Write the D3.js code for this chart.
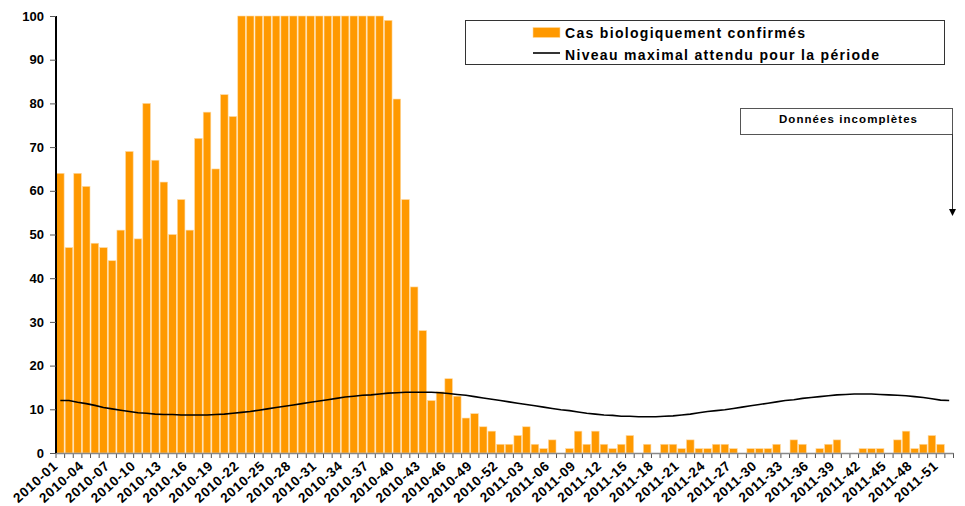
<!DOCTYPE html>
<html>
<head>
<meta charset="utf-8">
<script src="https://cdn.jsdelivr.net/npm/d3@7"></script>
<style>
  body { margin: 0; background: white; }
  svg { display: block; font-family: "Liberation Sans", Arial, sans-serif; }
</style>
</head>
<body>
<svg id="chart" width="965" height="506"></svg>
<script>
var years = [2010, 2011];
var weeksPerYear = 52;

// cas biologiquement confirmés (capped at 100 on the chart)
var cases = [
	64, 47, 64, 61, 48, 47, 44, 51, 69, 49, 80, 67, 62, 50, 58, 51, 72, 78, 65, 82,
	77, 100, 100, 100, 100, 100, 100, 100, 100, 100, 100, 100, 100, 100, 100, 100, 100, 100, 99, 81,
	58, 38, 28, 12, 14, 17, 13, 8, 9, 6, 5, 2,
	2, 4, 6, 2, 1, 3, 0, 1, 5, 2, 5, 2, 1, 2, 4, 0, 2, 0,
	2, 2, 1, 3, 1, 1, 2, 2, 1, 0, 1, 1, 1, 2, 0, 3, 2, 0, 1, 2,
	3, 0, 0, 1, 1, 1, 0, 3, 5, 1, 2, 4, 2, 0
];

// niveau maximal attendu pour la période
var expected = [
	12.0, 12.0, 11.6, 11.3, 10.9, 10.4, 10.1, 9.8, 9.5, 9.2, 9.1, 8.9, 8.8, 8.8, 8.7, 8.7, 8.7, 8.7, 8.8, 8.9,
	9.1, 9.3, 9.5, 9.8, 10.1, 10.4, 10.7, 11.0, 11.3, 11.6, 11.9, 12.2, 12.5, 12.8, 13.0, 13.2, 13.3, 13.5, 13.7, 13.8,
	13.9, 13.9, 13.9, 13.9, 13.8, 13.6, 13.4, 13.2, 12.9, 12.6, 12.3, 12.0,
	11.7, 11.4, 11.1, 10.8, 10.5, 10.2, 9.9, 9.7, 9.4, 9.1, 8.9, 8.7, 8.6, 8.4, 8.4, 8.3, 8.3, 8.3,
	8.4, 8.5, 8.7, 8.9, 9.2, 9.5, 9.7, 9.9, 10.2, 10.5, 10.8, 11.1, 11.4, 11.7, 12.0, 12.2, 12.5, 12.7, 12.9, 13.1,
	13.3, 13.4, 13.5, 13.5, 13.5, 13.4, 13.3, 13.2, 13.1, 12.9, 12.7, 12.4, 12.1, 12.0
];

var yTicks = [0, 10, 20, 30, 40, 50, 60, 70, 80, 90, 100];
var legendLabels = ["Cas biologiquement confirmés", "Niveau maximal attendu pour la période"];
var noteLabel = "Données incomplètes";

var weeks = [];
years.forEach(function (yr) {
	for (var w = 1; w <= weeksPerYear; w++) {
		weeks.push(yr + "-" + (w < 10 ? "0" + w : w));
	}
});

var svg = d3.select("#chart");
var plotL = 56, plotR = 953.5, plotT = 16, plotB = 453;

var x = d3.scaleBand()
	.domain(weeks)
	.range([plotL, plotR])
	.paddingInner(0.12)
	.paddingOuter(0.06);

var y = d3.scaleLinear()
	.domain([0, 100])
	.range([plotB, plotT])
	.clamp(true);

// bars
svg.append("g")
	.selectAll("rect")
	.data(cases)
	.enter().append("rect")
	.attr("x", function (d, i) { return x(weeks[i]); })
	.attr("y", function (d) { return y(d); })
	.attr("width", x.bandwidth())
	.attr("height", function (d) { return plotB - y(d); })
	.style("fill", "#ff9900")
	.style("stroke", "#ffd9a0")
	.style("stroke-width", 0.6);

// x axis: boundary ticks on every week, label every 3 weeks
var edge = x.step() * 0.06;
svg.append("g")
	.selectAll("line")
	.data(weeks.concat(["end"]))
	.enter().append("line")
	.attr("x1", function (d, i) { return i < weeks.length ? x(d) - edge : plotR; })
	.attr("x2", function (d, i) { return i < weeks.length ? x(d) - edge : plotR; })
	.attr("y1", plotB)
	.attr("y2", plotB + 5)
	.style("stroke", "#555")
	.style("stroke-width", 1);

svg.append("line")
	.attr("x1", plotL).attr("x2", plotR)
	.attr("y1", plotB + 0.5).attr("y2", plotB + 0.5)
	.style("stroke", "#888")
	.style("stroke-width", 1.5);

svg.append("g")
	.selectAll("text")
	.data(weeks.filter(function (d, i) { return i % 3 === 0; }))
	.enter().append("text")
	.attr("transform", function (d) {
		return "translate(" + (x(d) + x.bandwidth() / 2 - 1.5) + "," + 467 + ") rotate(-42)";
	})
	.attr("text-anchor", "end")
	.style("font-size", "13.5px")
	.style("letter-spacing", "0.7px")
	.style("font-weight", "bold")
	.style("fill", "#000")
	.text(function (d) { return d; });

// y axis
var yAxis = svg.append("g")
	.attr("transform", "translate(" + plotL + ",0)")
	.call(d3.axisLeft(y).tickValues(yTicks).tickSize(6).tickPadding(6));
yAxis.select(".domain")
	.attr("d", "M0," + plotT + "V" + plotB)
	.style("stroke", "#000")
	.style("stroke-width", 2);
yAxis.selectAll(".tick line").style("stroke", "#555");
yAxis.selectAll(".tick text")
	.style("font-family", "'Liberation Sans', Arial, sans-serif")
	.style("font-size", "13px")
	.style("font-weight", "bold")
	.style("fill", "#000");

// expected level line
var line = d3.line()
	.x(function (d, i) { return x(weeks[i]) + x.bandwidth() / 2; })
	.y(function (d) { return y(d); });

svg.append("path")
	.datum(expected)
	.attr("d", line)
	.style("fill", "none")
	.style("stroke", "#000")
	.style("stroke-width", 1.6);

// legend
var legend = svg.append("g");
legend.append("rect")
	.attr("x", 465.5).attr("y", 20.5)
	.attr("width", 479).attr("height", 44)
	.style("fill", "white")
	.style("stroke", "#333")
	.style("stroke-width", 1);
legend.append("rect")
	.attr("x", 533).attr("y", 27.5)
	.attr("width", 27).attr("height", 10)
	.style("fill", "#ff9900")
	.style("stroke", "#ffd9a0")
	.style("stroke-width", 0.6);
legend.append("line")
	.attr("x1", 533).attr("x2", 560)
	.attr("y1", 53).attr("y2", 53)
	.style("stroke", "#000")
	.style("stroke-width", 1.6);
legend.selectAll("text.lg")
	.data(legendLabels)
	.enter().append("text")
	.attr("class", "lg")
	.attr("x", 565)
	.attr("y", function (d, i) { return 38 + i * 21.5; })
	.attr("textLength", function (d, i) { return i === 0 ? 240 : 314; })
	.attr("lengthAdjust", "spacing")
	.style("font-size", "14px")
	.style("font-weight", "bold")
	.style("fill", "#000")
	.text(function (d) { return d; });

// incomplete data note
var note = svg.append("g");
note.append("rect")
	.attr("x", 740.5).attr("y", 108.5)
	.attr("width", 212).attr("height", 26)
	.style("fill", "white")
	.style("stroke", "#555")
	.style("stroke-width", 1);
note.append("text")
	.attr("x", 848).attr("y", 123)
	.attr("text-anchor", "middle")
	.attr("textLength", 138)
	.attr("lengthAdjust", "spacing")
	.style("font-size", "11.5px")
	.style("font-weight", "bold")
	.text(noteLabel);
note.append("line")
	.attr("x1", 952.5).attr("x2", 952.5)
	.attr("y1", 134).attr("y2", 210)
	.style("stroke", "#333")
	.style("stroke-width", 1);
note.append("path")
	.attr("d", "M949,209L956,209L952.5,216Z")
	.style("fill", "#000");
</script>
</body>
</html>
